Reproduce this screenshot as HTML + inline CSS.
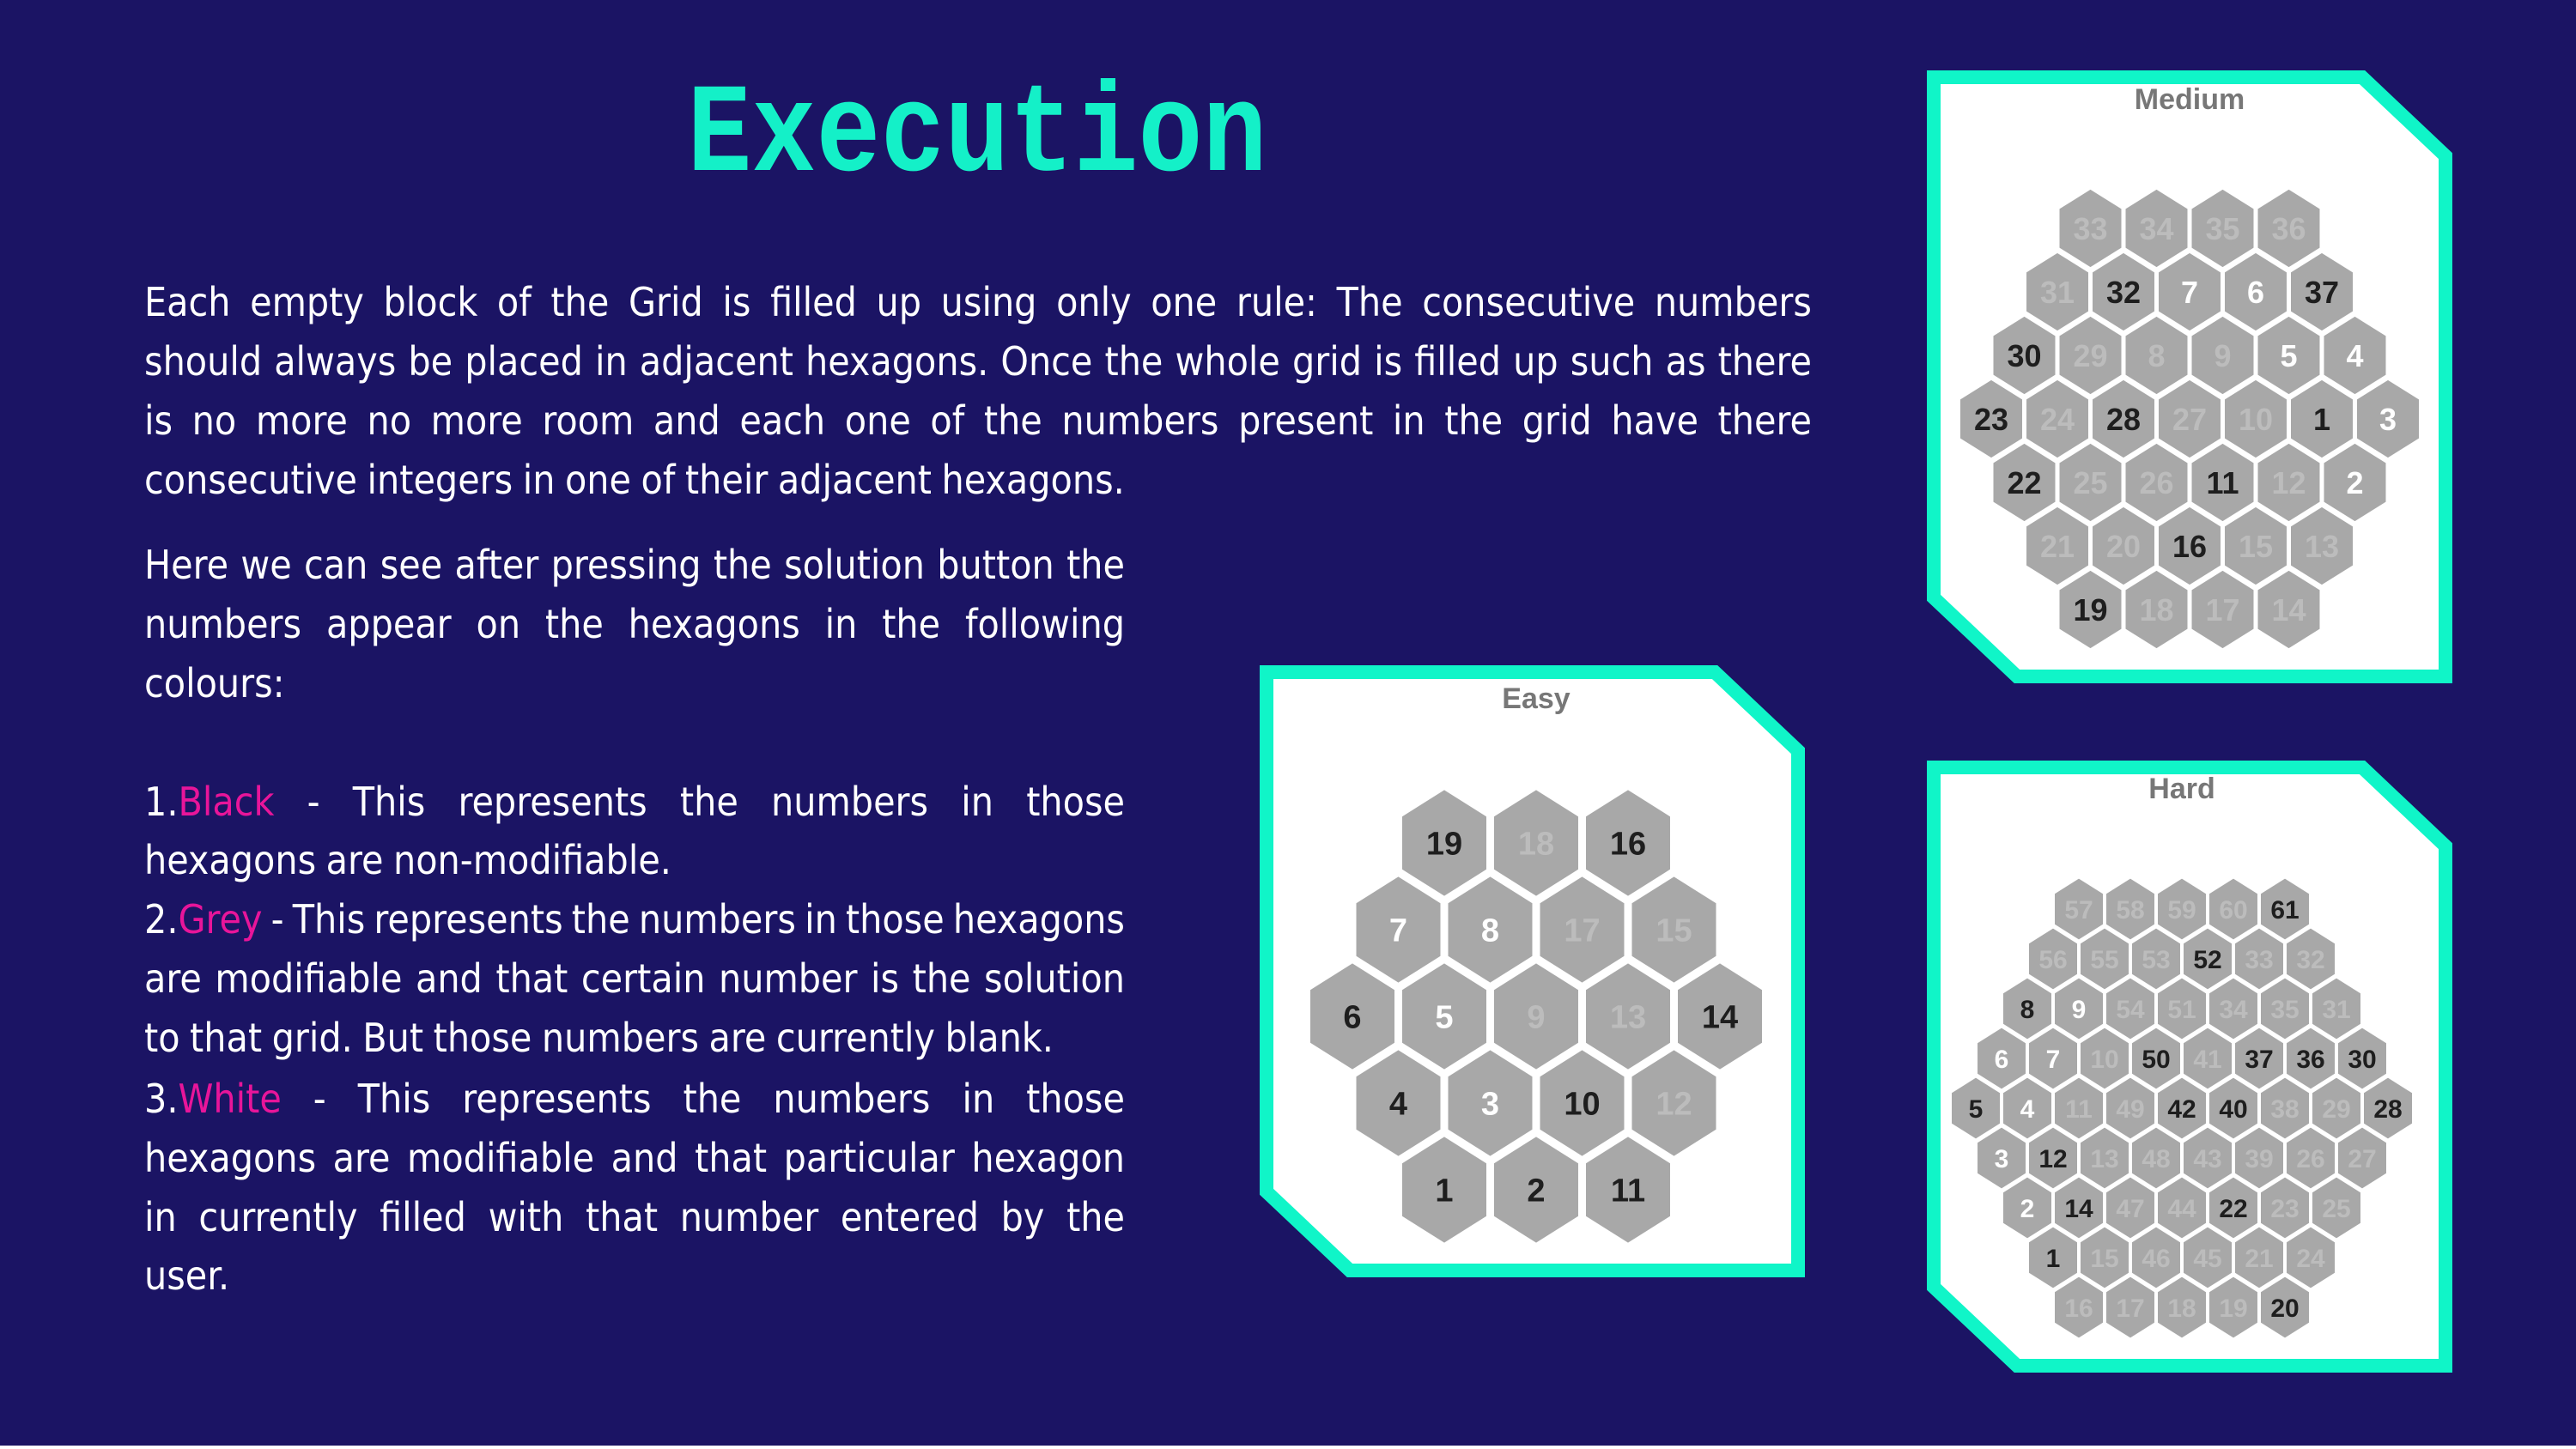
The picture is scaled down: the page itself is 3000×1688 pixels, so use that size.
<!DOCTYPE html>
<html><head><meta charset="utf-8">
<style>
html,body{margin:0;padding:0}
body{width:3000px;height:1688px;background:#1b1464;position:relative;overflow:hidden;font-family:"Liberation Sans Narrow","DejaVu Sans Condensed","Liberation Sans",sans-serif;color:#fff}
#title{position:absolute;left:0;width:2276px;top:84px;text-align:center;font-family:"Liberation Mono",monospace;font-weight:bold;font-size:125px;color:#14f0c8;line-height:150px;transform:scaleY(1.18);letter-spacing:0px}
.ln{position:absolute;left:168px;height:69px;line-height:69px;font-size:46px;white-space:nowrap;display:flex;justify-content:space-between;align-items:center}
.ln.last{justify-content:flex-start;gap:0.25em}
.m{color:#e8159a}
#bot{position:absolute;left:0;bottom:0;width:3000px;height:4px;background:#fff}
svg{position:absolute;left:0;top:0}
</style></head>
<body>
<div id="title">Execution</div>
<div id="text"></div>
<svg id="sv" width="3000" height="1688"></svg>
<div id="bot"></div>
<script>
// text lines: [centerY, width, text, isLast]; [word] = magenta
const lines=[
[352,1942,"Each empty block of the Grid is filled up using only one rule: The consecutive numbers",0],
[421,1942,"should always be placed in adjacent hexagons. Once the whole grid is filled up such as there",0],
[490,1942,"is no more no more room and each one of the numbers present in the grid have there",0],
[559,1942,"consecutive integers in one of their adjacent hexagons.",1],
[658,1142,"Here we can see after pressing the solution button the",0],
[727,1142,"numbers appear on the hexagons in the following",0],
[796,1142,"colours:",1],
[934,1142,"1.[Black] - This represents the numbers in those",0],
[1002,1142,"hexagons are non-modifiable.",1],
[1071,1142,"2.[Grey] - This represents the numbers in those hexagons",0],
[1140,1142,"are modifiable and that certain number is the solution",0],
[1209,1142,"to that grid. But those numbers are currently blank.",1],
[1280,1142,"3.[White] - This represents the numbers in those",0],
[1349,1142,"hexagons are modifiable and that particular hexagon",0],
[1418,1142,"in currently filled with that number entered by the",0],
[1486,1142,"user.",1]];
const T=document.getElementById('text');
lines.forEach((l,i)=>{
  const d=document.createElement('div');
  d.className='ln'+(l[3]?' last':'');
  
  
  d.style.top=(l[0]-34)+'px';d.style.width=l[1]+'px';
  l[2].split(' ').forEach(w=>{
    const s=document.createElement('span');
    s.innerHTML=w.replace(/\[(.*?)\]/,"<span class='m'>$1</span>");
    d.appendChild(s);
  });
  T.appendChild(d);
  let fs=46;
  while(d.scrollWidth>l[1]+1&&fs>20){fs--;d.style.fontSize=fs+'px';}
});

// puzzle data: value + state (d=dark given, w=white entered, g=grey solution)
const easyRows=[["19d","18g","16d"],["7w","8w","17g","15g"],["6d","5w","9g","13g","14d"],["4d","3w","10d","12g"],["1d","2d","11d"]];
const mediumRows=[["33g","34g","35g","36g"],["31g","32d","7w","6w","37d"],["30d","29g","8g","9g","5w","4w"],["23d","24g","28d","27g","10g","1d","3w"],["22d","25g","26g","11d","12g","2w"],["21g","20g","16d","15g","13g"],["19d","18g","17g","14g"]];
const hardRows=[["57g","58g","59g","60g","61d"],["56g","55g","53g","52d","33g","32g"],["8d","9w","54g","51g","34g","35g","31g"],["6w","7w","10g","50d","41g","37d","36d","30d"],["5d","4w","11g","49g","42d","40d","38g","29g","28d"],["3w","12d","13g","48g","43g","39g","26g","27g"],["2w","14d","47g","44g","22d","23g","25g"],["1d","15g","46g","45g","21g","24g"],["16g","17g","18g","19g","20d"]];

const NS='http://www.w3.org/2000/svg';
const sv=document.getElementById('sv');
function el(tag,attrs,parent){const e=document.createElementNS(NS,tag);for(const k in attrs)e.setAttribute(k,attrs[k]);parent.appendChild(e);return e;}
const col={d:'#1e1e1e',w:'#ffffff',g:'#bcbcbc'};
function panel(name,x0,y0,x1,y1,title,tx,ty,rows,cx,cy,dx,dy,hw,fs){
  const g=el('g',{},sv);
  
  
  const c=105,b=8;
  const pts=[[x0+b,y0+b],[x1-c,y0+b],[x1-b,y0+c*0.95],[x1-b,y1-b],[x0+c,y1-b],[x0+b,y1-c*0.95]].map(p=>p.join(',')).join(' ');
  el('polygon',{points:pts,fill:'#fff',stroke:'#10f5c8','stroke-width':16,'stroke-linejoin':'miter'},g);
  const t=el('text',{x:tx,y:ty,'text-anchor':'middle','font-family':'Liberation Sans, sans-serif','font-weight':'bold','font-size':34,fill:'#777'},g);
  t.textContent=title;
  
  
  const mid=(rows.length-1)/2, hh=dy*1.22;
  rows.forEach((r,ri)=>{
    r.forEach((v,ci)=>{
      const x=cx+(ci-(r.length-1)/2)*dx, y=cy+(ri-mid)*dy;
      const hg=el('g',{},g);
      
      
      const hx=hw/2, hy=hh/2;
      el('polygon',{points:[[x,y-hy],[x+hx,y-hy/2],[x+hx,y+hy/2],[x,y+hy],[x-hx,y+hy/2],[x-hx,y-hy/2]].map(p=>p.join(',')).join(' '),fill:'#a8a8a8'},hg);
      const s=v.slice(-1);
      const tt=el('text',{x:x,y:y+fs*0.36,'text-anchor':'middle','font-family':'Liberation Sans, sans-serif','font-weight':'bold','font-size':fs,fill:col[s]},hg);
      tt.textContent=v.slice(0,-1);
    });
  });
}
panel('medium',2244,82,2856,796,'Medium',2550,127,mediumRows,2550,488,77,74,72,36);
panel('easy',1467,775,2102,1488,'Easy',1789,825,easyRows,1789,1184,107,101,98,38);
panel('hard',2244,886,2856,1599,'Hard',2541,930,hardRows,2541,1291,60,58,56,30);
</script>
</body></html>
